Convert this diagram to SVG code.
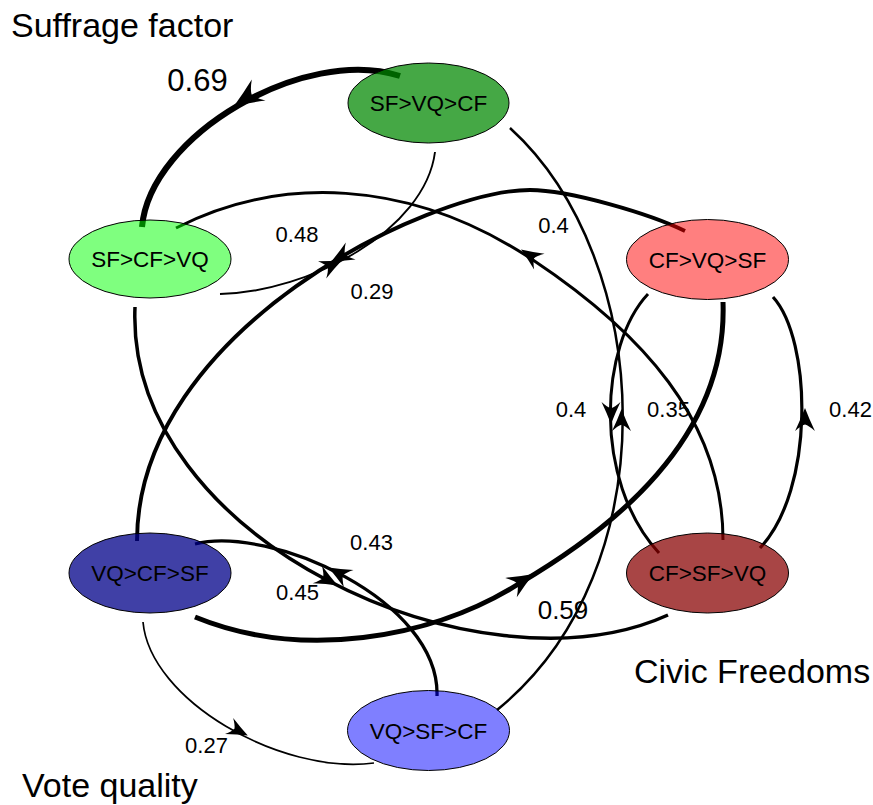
<svg xmlns="http://www.w3.org/2000/svg" width="873" height="805" viewBox="0 0 873 805">
<defs>
<path id="ah" d="M0,0 Q-10,3.8 -21,9 Q-16,3.5 -15,0 Q-16,-3.5 -21,-9 Q-10,-3.8 0,0Z" fill="#000"/>
</defs>
<style>
.e{fill:none;stroke:#000}
.n{stroke:#000;stroke-width:1}
.t{font-family:"Liberation Sans",Arial,sans-serif;font-size:22.5px;text-anchor:middle;fill:#000}
.l{font-family:"Liberation Sans",Arial,sans-serif;font-size:22px;text-anchor:middle;fill:#000}
.g{font-family:"Liberation Sans",Arial,sans-serif;font-size:34px;fill:#000}
</style>
<rect width="873" height="805" fill="#fff"/>
<g id="edges">
<path class="e" stroke-width="6" d="M400,76 C305,45 150,135 142,227"/>
<path class="e" stroke-width="1.9" d="M220,294 C310,292 425,230 435,152"/>
<path class="e" stroke-width="3.9" d="M685,231 C650,214 570,190 530,190 C430,190 137,330 137,541"/>
<path class="e" stroke-width="5" d="M195,617 C300,660 430,640 520,583 C610,530 728,440 723,302"/>
<path class="e" stroke-width="3.2" d="M760,548 C815,490 812,340 773,297"/>
<path class="e" stroke-width="3" d="M648,294 C600,345 592,480 659,553"/>
<path class="e" stroke-width="2.5" d="M497,710 C670,570 655,260 510,128"/>
<path class="e" stroke-width="3" d="M723,540 C723,420 641,332 533,260 C408,177 278,176 176,228"/>
<path class="e" stroke-width="3.5" d="M135,307 C125,540 480,700 668,615"/>
<path class="e" stroke-width="1.7" d="M143,622 C150,700 280,775 374,763"/>
<path class="e" stroke-width="3.3" d="M437,696 C440,600 270,525 195,544"/>
<use href="#ah" transform="translate(234,106) rotate(147) scale(1.4)"/>
<use href="#ah" transform="translate(330.6,262.4) rotate(150.4) scale(1.1)"/>
<use href="#ah" transform="translate(342,260.3) rotate(-25.7) scale(1.05)"/>
<use href="#ah" transform="translate(521,249.4) rotate(213.7) scale(1.05)"/>
<use href="#ah" transform="translate(611,424) rotate(90) scale(1.05)"/>
<use href="#ah" transform="translate(621.5,409) rotate(-90) scale(1.05)"/>
<use href="#ah" transform="translate(805,408) rotate(-90) scale(1.1)"/>
<use href="#ah" transform="translate(337.7,585.4) rotate(28) scale(1.1)"/>
<use href="#ah" transform="translate(328.5,567.5) rotate(209) scale(1.1)"/>
<use href="#ah" transform="translate(533.5,574) rotate(-31) scale(1.25)"/>
<use href="#ah" transform="translate(247.8,735.5) rotate(27)"/>
</g>
<g id="node-SF-VQ-CF"><ellipse class="n" cx="428.5" cy="103" rx="80.5" ry="40" fill="#008800" fill-opacity="0.73"/><text class="t" x="428.5" y="111">SF&gt;VQ&gt;CF</text></g>
<g id="node-SF-CF-VQ"><ellipse class="n" cx="150" cy="259" rx="81" ry="39" fill="#00ff00" fill-opacity="0.5"/><text class="t" x="150" y="267">SF&gt;CF&gt;VQ</text></g>
<g id="node-CF-VQ-SF"><ellipse class="n" cx="707.5" cy="259.5" rx="81" ry="40" fill="#ff0000" fill-opacity="0.5"/><text class="t" x="707.5" y="267.5">CF&gt;VQ&gt;SF</text></g>
<g id="node-VQ-CF-SF"><ellipse class="n" cx="150" cy="573" rx="81" ry="40" fill="#000088" fill-opacity="0.75"/><text class="t" x="150" y="581">VQ&gt;CF&gt;SF</text></g>
<g id="node-CF-SF-VQ"><ellipse class="n" cx="707.5" cy="573" rx="81" ry="40" fill="#880000" fill-opacity="0.73"/><text class="t" x="707.5" y="581">CF&gt;SF&gt;VQ</text></g>
<g id="node-VQ-SF-CF"><ellipse class="n" cx="428.5" cy="730.5" rx="81" ry="40" fill="#0000ff" fill-opacity="0.5"/><text class="t" x="428.5" y="738.5">VQ&gt;SF&gt;CF</text></g>
<g id="edge-labels">
<text class="l" x="197.5" y="91" style="font-size:31px">0.69</text>
<text class="l" x="297" y="242">0.48</text>
<text class="l" x="372" y="299">0.29</text>
<text class="l" x="553.5" y="233">0.4</text>
<text class="l" x="571" y="417">0.4</text>
<text class="l" x="668.5" y="417">0.35</text>
<text class="l" x="850.5" y="417">0.42</text>
<text class="l" x="371.5" y="550">0.43</text>
<text class="l" x="297.5" y="600">0.45</text>
<text class="l" x="563" y="619" style="font-size:26px">0.59</text>
<text class="l" x="206.5" y="753">0.27</text>
</g>
<g id="titles">
<text class="g" x="11" y="36.5">Suffrage factor</text>
<text class="g" x="634" y="683">Civic Freedoms</text>
<text class="g" x="22" y="796.5">Vote quality</text>
</g>
</svg>
